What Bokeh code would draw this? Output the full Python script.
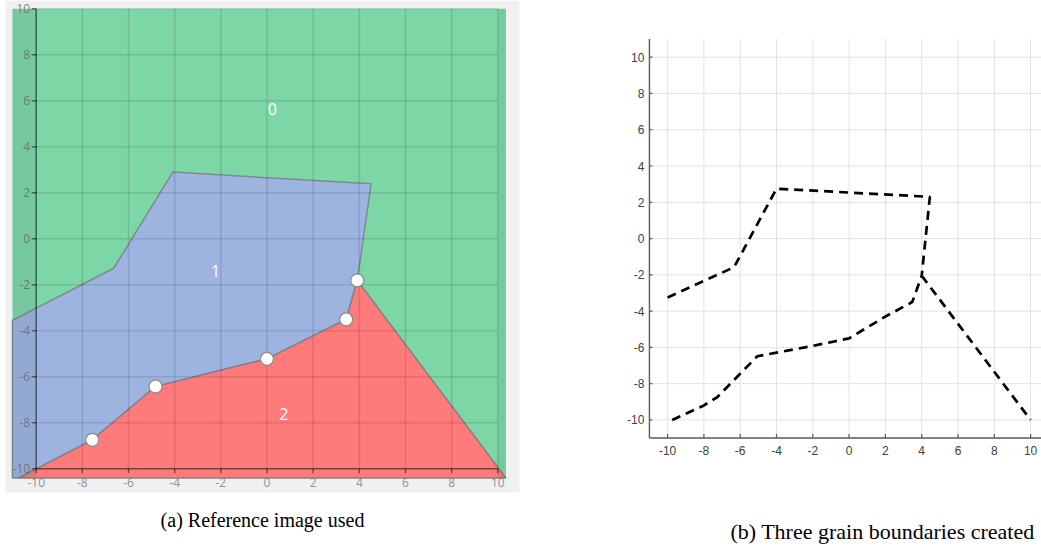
from bokeh.plotting import figure
from bokeh.layouts import row
from bokeh.models import Range1d
from bokeh.core.properties import value
from bokeh.embed import file_html
from bokeh.resources import INLINE

# ---------------- data ----------------
ticks = [-10, -8, -6, -4, -2, 0, 2, 4, 6, 8, 10]
tick_labels = [str(t) for t in ticks]

# panel (a): reference image regions
image_x = [-11.03, 10.35]
image_y = [-10.4, 10.0]

grain1_x = [-11.03, -6.64, -4.08, 4.51, 3.91, 3.43, 0.0, -4.83, -7.57, -10.75, -11.03]
grain1_y = [-3.55, -1.28, 2.90, 2.39, -1.81, -3.50, -5.22, -6.42, -8.74, -10.4, -10.4]

grain2_x = [-10.75, -7.57, -4.83, 0.0, 3.43, 3.91, 10.35]
grain2_y = [-10.4, -8.74, -6.42, -5.22, -3.50, -1.81, -10.4]

node_x = [-7.57, -4.83, 0.0, 3.43, 3.91]
node_y = [-8.74, -6.42, -5.22, -3.50, -1.81]

region_names = ["0", "1", "2"]
region_x = [0.23, -2.23, 0.73]
region_y = [5.65, -1.41, -7.61]

# panel (b): grain boundaries
b01_x = [-10.0, -6.34, -4.0, 4.45, 4.0]
b01_y = [-3.25, -1.58, 2.75, 2.3, -2.05]
b12_x = [-9.75, -8.0, -7.27, -5.06, -2.0, 0.0, 2.0, 3.48, 4.0]
b12_y = [-10.0, -9.2, -8.75, -6.49, -5.92, -5.5, -4.3, -3.5, -2.05]
b02_x = [4.0, 10.0]
b02_y = [-2.05, -10.0]
axis_lim = [-11, 11]

caption_a = "(a) Reference image used"
caption_b = "(b) Three grain boundaries created"

H = 546


# ---------------- panel (a) ----------------
def ax(px):
    return -10 + (px - 35.7) / 23.08


def ay(py):
    return 10 - (py - 8.3) / 23.0


W1 = 610
p1 = figure(width=W1, height=H, x_range=Range1d(ax(0), ax(W1)), y_range=Range1d(ay(H), ay(0)),
            x_axis_type=None, y_axis_type=None, toolbar_location=None, output_backend="svg",
            min_border=0, min_border_left=0, min_border_right=0, min_border_top=0, min_border_bottom=0)
p1.background_fill_color = "white"
p1.border_fill_color = "white"
p1.outline_line_color = None
p1.xgrid.visible = False
p1.ygrid.visible = False

# grey panel of the screenshot
p1.quad(left=[ax(5)], right=[ax(519)], bottom=[ay(492)], top=[ay(0)], fill_color="#f0f0f0", line_color=None)

GREEN = "#7dd6a6"
BLUE = "#9db4e0"
RED = "#ff7b7b"

p1.quad(left=[image_x[0]], right=[image_x[1]], bottom=[image_y[0]], top=[image_y[1]],
        fill_color=GREEN, line_color=None)
p1.patch(grain1_x, grain1_y, fill_color=BLUE, line_color="#7f8a8f", line_width=1.5)
p1.patch(grain2_x, grain2_y, fill_color=RED, line_color="#8a7f80", line_width=1.5)

tmin, tmax = min(ticks), max(ticks)
# darker strips outside the [-10, 10] window
p1.quad(left=[image_x[0], tmax], right=[tmin, image_x[1]],
        bottom=[image_y[0]] * 2, top=[image_y[1]] * 2,
        fill_color="black", fill_alpha=0.06, line_color=None)

# grid lines
n = len(ticks)
p1.segment(x0=ticks[1:], y0=[tmin] * (n - 1), x1=ticks[1:], y1=[tmax] * (n - 1),
           line_color="black", line_alpha=0.11, line_width=1.6)
p1.segment(x0=[tmin] * (n - 1), y0=ticks[1:], x1=[tmax] * (n - 1), y1=ticks[1:],
           line_color="black", line_alpha=0.11, line_width=1.6)

# axis lines and tick marks
tl = 4.5 / 23.08
p1.line([tmin, tmin], [tmin, tmax], line_color="black", line_alpha=0.5, line_width=1.6)
p1.line([tmin, tmax], [tmin, tmin], line_color="black", line_alpha=0.5, line_width=1.6)
p1.segment(x0=[tmin - tl] * n, y0=ticks, x1=[tmin] * n, y1=ticks,
           line_color="black", line_alpha=0.5, line_width=1.4)
p1.segment(x0=ticks, y0=[tmin - tl] * n, x1=ticks, y1=[tmin] * n,
           line_color="black", line_alpha=0.5, line_width=1.4)

# tick labels
p1.text(x=[tmin] * n, y=ticks, text=tick_labels, x_offset=-6,
        text_align="right", text_baseline="middle", text_font=value("Open Sans"),
        text_font_size="12px", text_color="#666666", text_alpha=0.8)
p1.text(x=ticks, y=[tmin] * n, text=tick_labels, y_offset=14,
        text_align="center", text_baseline="middle", text_font=value("Open Sans"),
        text_font_size="12px", text_color="#777777", text_alpha=0.8)

# nodes and region labels
p1.scatter(node_x, node_y, size=13, fill_color="white", line_color="#8a8a8a", line_width=1.2)
p1.text(x=region_x, y=region_y, text=region_names, text_align="center", text_baseline="middle",
        text_font=value("Open Sans"), text_font_size="16px", text_color="white")

# caption
p1.text(x=[ax(262)], y=[ay(519)], text=[caption_a], text_align="center", text_baseline="middle",
        text_font=value("Liberation Serif"), text_font_size="20px", text_color="black")


# ---------------- panel (b) ----------------
def bx(px):
    return -10 + (px - 57.1) / 18.15


def by(py):
    return 10 - (py - 56.7) / 18.136


W2 = 431
p2 = figure(width=W2, height=H, x_range=Range1d(bx(0), bx(W2)), y_range=Range1d(by(H), by(0)),
            x_axis_type=None, y_axis_type=None, toolbar_location=None, output_backend="svg",
            min_border=0, min_border_left=0, min_border_right=0, min_border_top=0, min_border_bottom=0)
p2.outline_line_color = None
p2.background_fill_color = "white"
p2.border_fill_color = "white"
p2.xgrid.visible = False
p2.ygrid.visible = False

lo, hi = axis_lim
xr_end = bx(W2)
# grid
p2.segment(x0=ticks, y0=[lo] * n, x1=ticks, y1=[hi] * n, line_color="#e3e3e3", line_width=1)
p2.segment(x0=[lo] * n, y0=ticks, x1=[xr_end] * n, y1=ticks, line_color="#e3e3e3", line_width=1)

# axes
p2.line([lo, xr_end], [lo, lo], line_color="#5a5a5a", line_width=1.4)
p2.line([lo, lo], [lo, hi], line_color="#5a5a5a", line_width=1.4)
p2.segment(x0=ticks, y0=[lo] * n, x1=ticks, y1=[lo + 4 / 18.136] * n, line_color="#5a5a5a", line_width=1.2)
p2.segment(x0=[lo] * n, y0=ticks, x1=[lo + 3 / 18.15] * n, y1=ticks, line_color="#5a5a5a", line_width=1.2)

p2.text(x=[lo] * n, y=ticks, text=tick_labels, x_offset=-5, text_align="right", text_baseline="middle",
        text_font=value("Liberation Sans"), text_font_size="12px", text_color="#404040")
p2.text(x=ticks, y=[lo] * n, text=tick_labels, y_offset=12.5, text_align="center", text_baseline="middle",
        text_font=value("Liberation Sans"), text_font_size="12px", text_color="#404040")

for bxs, bys in ((b01_x, b01_y), (b12_x, b12_y), (b02_x, b02_y)):
    p2.line(bxs, bys, line_color="black", line_width=2.7, line_dash="9 6")

p2.text(x=[bx(272)], y=[by(531)], text=[caption_b], text_align="center", text_baseline="middle",
        text_font=value("Liberation Serif"), text_font_size="22px", text_color="black")

layout = row(p1, p2)
open("out.html", "w").write(file_html(layout, INLINE))
